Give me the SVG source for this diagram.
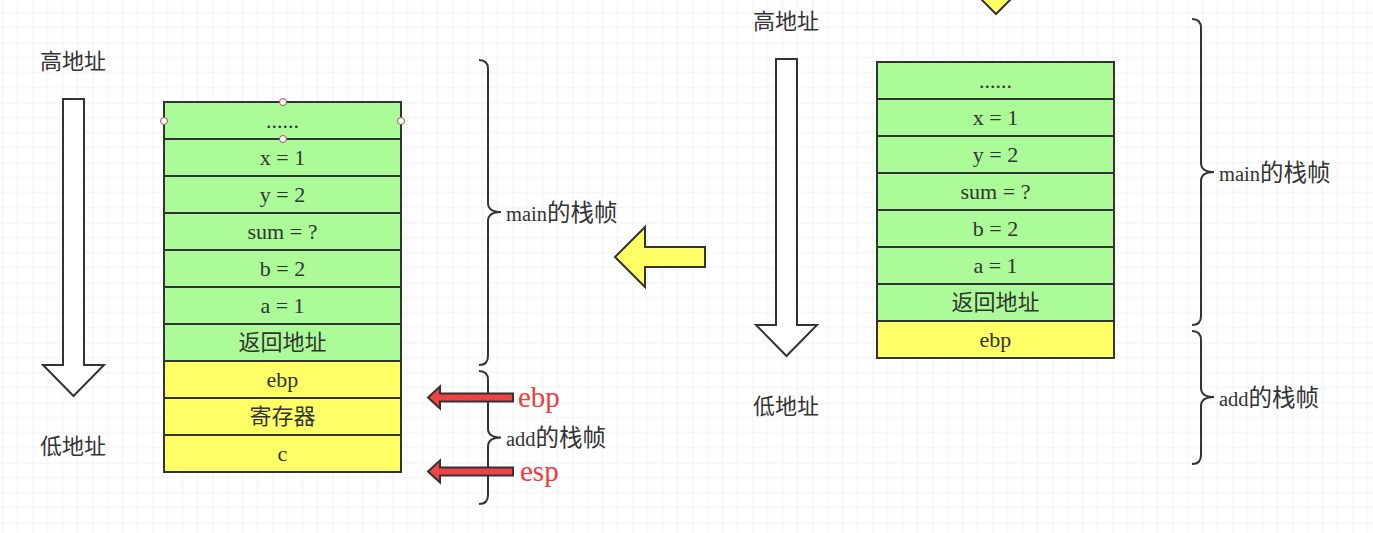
<svg xmlns="http://www.w3.org/2000/svg" width="1373" height="533" viewBox="0 0 1373 533">
<style>
.cell-g{fill:#abfb98;stroke:#333;stroke-width:2}
.cell-y{fill:#ffff66;stroke:#333;stroke-width:2}
.ct{font-family:"Liberation Serif","Noto Sans CJK SC",serif;font-size:22px;fill:#333;text-anchor:middle}
.lbl{font-family:"Liberation Serif","Noto Sans CJK SC",serif;font-size:20.5px;fill:#333}
.cjk{font-family:"Noto Sans CJK SC",sans-serif;font-size:23.5px}
.addr{font-family:"Noto Sans CJK SC",sans-serif;font-size:22px;fill:#333}
.reg{font-family:"Liberation Serif",serif;font-size:29px;fill:#f03c3c}
.brace{fill:none;stroke:#333;stroke-width:2}
.big{fill:#fff;stroke:#333;stroke-width:2}
.yarrow{fill:#ffff66;stroke:#333;stroke-width:2}
.rarrow{fill:#ef4444;stroke:#333;stroke-width:2}
.handle{fill:#fff;stroke:#a05050;stroke-width:1}
</style>
<defs>
<pattern id="grid" patternUnits="userSpaceOnUse" x="32.5" y="42.5" width="60" height="60">
<path d="M15,0V60M30,0V60M45,0V60M0,15H60M0,30H60M0,45H60" stroke="#efefef" stroke-width="1" fill="none"/>
<path d="M0,0V60M0,0H60" stroke="#e2e2e2" stroke-width="1" fill="none"/>
</pattern>
</defs>
<rect width="1373" height="533" fill="#fff"/>
<rect width="1373" height="533" fill="url(#grid)"/>

<g id="left-stack">
<rect class="cell-g" x="164" y="102" width="237" height="37"/>
<rect class="cell-g" x="164" y="139" width="237" height="37"/>
<rect class="cell-g" x="164" y="176" width="237" height="37"/>
<rect class="cell-g" x="164" y="213" width="237" height="37"/>
<rect class="cell-g" x="164" y="250" width="237" height="37"/>
<rect class="cell-g" x="164" y="287" width="237" height="37"/>
<rect class="cell-g" x="164" y="324" width="237" height="37"/>
<rect class="cell-y" x="164" y="361" width="237" height="37"/>
<rect class="cell-y" x="164" y="398" width="237" height="37"/>
<rect class="cell-y" x="164" y="435" width="237" height="37"/>
<text class="ct" x="282.5" y="128">......</text>
<text class="ct" x="282.5" y="165">x = 1</text>
<text class="ct" x="282.5" y="202">y = 2</text>
<text class="ct" x="282.5" y="239">sum = ?</text>
<text class="ct" x="282.5" y="276">b = 2</text>
<text class="ct" x="282.5" y="313">a = 1</text>
<text class="ct" x="282.5" y="350">返回地址</text>
<text class="ct" x="282.5" y="387">ebp</text>
<text class="ct" x="282.5" y="424">寄存器</text>
<text class="ct" x="282.5" y="461">c</text>
<circle class="handle" cx="283" cy="102" r="3.5"/>
<circle class="handle" cx="164" cy="121" r="3.5"/>
<circle class="handle" cx="401" cy="121" r="3.5"/>
<circle class="handle" cx="283" cy="139" r="3.5"/>
</g>

<g id="right-stack">
<rect class="cell-g" x="877" y="62" width="237" height="37"/>
<rect class="cell-g" x="877" y="99" width="237" height="37"/>
<rect class="cell-g" x="877" y="136" width="237" height="37"/>
<rect class="cell-g" x="877" y="173" width="237" height="37"/>
<rect class="cell-g" x="877" y="210" width="237" height="37"/>
<rect class="cell-g" x="877" y="247" width="237" height="37"/>
<rect class="cell-g" x="877" y="284" width="237" height="37"/>
<rect class="cell-y" x="877" y="321" width="237" height="37"/>
<text class="ct" x="995.5" y="88">......</text>
<text class="ct" x="995.5" y="125">x = 1</text>
<text class="ct" x="995.5" y="162">y = 2</text>
<text class="ct" x="995.5" y="199">sum = ?</text>
<text class="ct" x="995.5" y="236">b = 2</text>
<text class="ct" x="995.5" y="273">a = 1</text>
<text class="ct" x="995.5" y="310">返回地址</text>
<text class="ct" x="995.5" y="347">ebp</text>
</g>

<g id="left-addr">
<text class="addr" x="40" y="69">高地址</text>
<polygon class="big" points="63,99 84,99 84,365 104,365 73.5,396 43,365 63,365"/>
<text class="addr" x="40" y="454">低地址</text>
</g>

<g id="right-addr">
<text class="addr" x="753" y="29">高地址</text>
<polygon class="big" points="776,59 797,59 797,325 817,325 786.5,356 756,325 776,325"/>
<text class="addr" x="753" y="414">低地址</text>
</g>

<g id="left-braces">
<path class="brace" d="M479,60 Q488,60 488,69 L488,203 Q488,212 501,212 Q488,212 488,221 L488,356 Q488,365 479,365"/>
<text class="lbl" x="506" y="221">main<tspan class="cjk">的栈帧</tspan></text>
<path class="brace" d="M479,371 Q488,371 488,380 L488,428.5 Q488,437.5 501,437.5 Q488,437.5 488,446.5 L488,495 Q488,504 479,504"/>
<text class="lbl" x="506" y="446">add<tspan class="cjk">的栈帧</tspan></text>
</g>

<g id="right-braces">
<path class="brace" d="M1192,19 Q1201,19 1201,28 L1201,163 Q1201,172 1214,172 Q1201,172 1201,181 L1201,316 Q1201,325 1192,325"/>
<text class="lbl" x="1219" y="181">main<tspan class="cjk">的栈帧</tspan></text>
<path class="brace" d="M1192,331 Q1201,331 1201,340 L1201,388 Q1201,397 1214,397 Q1201,397 1201,406 L1201,455 Q1201,464 1192,464"/>
<text class="lbl" x="1219" y="406">add<tspan class="cjk">的栈帧</tspan></text>
</g>

<g id="pointers">
<polygon class="rarrow" points="513,393.5 440,393.5 440,386.5 428,397.5 440,408.5 440,401.5 513,401.5"/>
<text class="reg" x="518" y="407">ebp</text>
<polygon class="rarrow" points="513,467.5 440,467.5 440,460.5 428,471.5 440,482.5 440,475.5 513,475.5"/>
<text class="reg" x="520" y="481">esp</text>
</g>

<g id="connectors">
<polygon class="yarrow" points="705,247 645,247 645,227 615,257 645,287 645,267 705,267"/>
<polygon class="yarrow" points="966,-16 1026,-16 996,14"/>
</g>
</svg>
